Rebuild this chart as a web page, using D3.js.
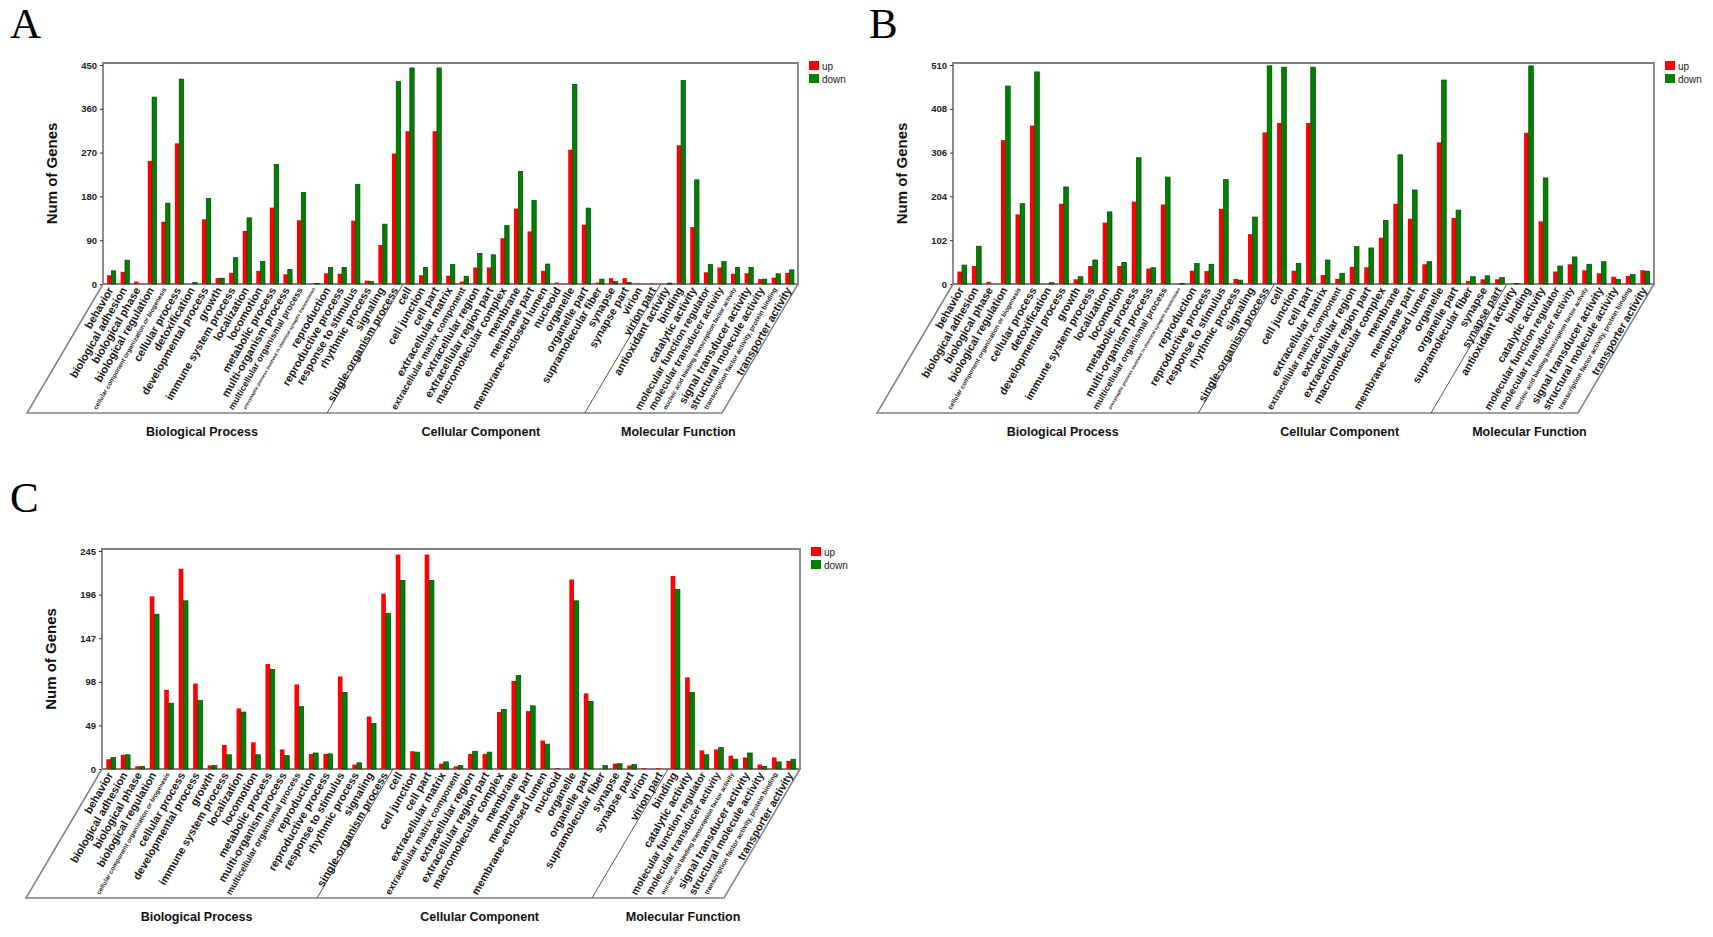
<!DOCTYPE html>
<html>
<head>
<meta charset="utf-8">
<script src="https://cdn.jsdelivr.net/npm/d3@7"></script>
<style>
  body { margin: 0; background: #fff; }
  svg text { font-family: "Liberation Sans", Arial, sans-serif; }
</style>
</head>
<body>
<svg id="fig" width="1713" height="937"></svg>
<script>
// GO level-2 terms
const bpTerms = ['behavior', 'biological adhesion', 'biological phase', 'biological regulation',
  'cellular component organization or biogenesis', 'cellular process', 'detoxification',
  'developmental process', 'growth', 'immune system process', 'localization', 'locomotion',
  'metabolic process', 'multi-organism process', 'multicellular organismal process',
  'presynaptic process involved in chemical synaptic transmission', 'reproduction',
  'reproductive process', 'response to stimulus', 'rhythmic process', 'signaling',
  'single-organism process'];
const ccTerms = ['cell', 'cell junction', 'cell part', 'extracellular matrix',
  'extracellular matrix component', 'extracellular region', 'extracellular region part',
  'macromolecular complex', 'membrane', 'membrane part', 'membrane-enclosed lumen', 'nucleoid',
  'organelle', 'organelle part', 'supramolecular fiber', 'synapse', 'synapse part', 'virion',
  'virion part'];
const mfTerms = ['antioxidant activity', 'binding', 'catalytic activity',
  'molecular function regulator', 'molecular transducer activity',
  'nucleic acid binding transcription factor activity', 'signal transducer activity',
  'structural molecule activity', 'transcription factor activity, protein binding',
  'transporter activity'];
const groupNames = ['Biological Process', 'Cellular Component', 'Molecular Function'];

// terms missing from a panel
const omitA = [];
const omitB = ['nucleoid', 'virion', 'virion part'];
const omitC = ['detoxification', 'presynaptic process involved in chemical synaptic transmission',
  'antioxidant activity'];

const seriesNames = ['up', 'down'];
const seriesColors = ['#ff0000', '#008000'];

// panel A
const upA = [18, 25, 5, 253, 128, 289, 0, 133, 12, 23, 109, 27, 157, 20, 131, 0, 22, 21, 130, 7, 80, 268,
  314, 18, 314, 17, 5, 34, 34, 94, 155, 108, 27, 3, 276, 122, 3, 12, 12, 1, 1,
  0, 285, 117, 24, 34, 21, 22, 10, 13, 23];
const downA = [27, 49, 0, 384, 166, 421, 3, 176, 12, 54, 136, 46, 246, 30, 188, 1, 34, 34, 205, 5, 123, 416,
  444, 34, 444, 40, 16, 63, 60, 120, 231, 172, 41, 0, 410, 156, 10, 5, 3, 0, 0,
  2, 418, 214, 40, 46, 34, 34, 10, 21, 29];
const ticksA = [0, 90, 180, 270, 360, 450];

// panel B
const upB = [29, 42, 5, 335, 162, 369, 0, 187, 11, 42, 143, 42, 192, 36, 185, 0, 31, 30, 175, 12, 116, 353,
  375, 31, 375, 21, 12, 40, 39, 108, 187, 152, 46, 330, 154, 7, 11, 11,
  0, 352, 146, 29, 46, 32, 25, 17, 19, 32];
const downB = [44, 88, 0, 461, 187, 494, 3, 226, 17, 56, 168, 50, 294, 38, 249, 1, 48, 46, 243, 9, 156, 508,
  505, 48, 505, 56, 25, 87, 84, 148, 301, 219, 52, 475, 172, 17, 19, 15,
  1, 508, 247, 42, 63, 46, 52, 11, 22, 30];
const ticksB = [0, 102, 204, 306, 408, 510];

// panel C
const upC = [11, 16, 3, 194, 89, 225, 96, 4, 27, 68, 30, 118, 22, 95, 17, 17, 104, 5, 59, 197,
  241, 20, 241, 6, 3, 17, 17, 64, 99, 65, 32, 1, 213, 85, 0, 6, 4, 1, 1,
  217, 103, 21, 22, 15, 13, 5, 13, 9];
const downC = [13, 16, 3, 174, 74, 189, 77, 4, 16, 64, 16, 112, 15, 70, 18, 17, 86, 7, 51, 175,
  212, 19, 212, 8, 4, 20, 19, 67, 105, 71, 28, 0, 189, 76, 4, 6, 5, 0, 0,
  202, 86, 16, 24, 11, 18, 3, 8, 11];
const ticksC = [0, 49, 98, 147, 196, 245];

const panels = [
  { letter: 'A', lx: 10, ly: 38, left: 103, right: 798, top: 63, base: 284, omit: omitA, up: upA, down: downA, ticks: ticksA },
  { letter: 'B', lx: 869, ly: 38, left: 953, right: 1654, top: 63, base: 284, omit: omitB, up: upB, down: downB, ticks: ticksB },
  { letter: 'C', lx: 10, ly: 512, left: 102, right: 800, top: 549, base: 769, omit: omitC, up: upC, down: downC, ticks: ticksC }
];

const svg = d3.select('#fig');
const slantX = 76, slantY = 129; // label box skew
const frameColor = '#808080';

function drawPanel(p) {
  const g = svg.append('g');
  const groups = [bpTerms, ccTerms, mfTerms].map(t => t.filter(d => !p.omit.includes(d)));
  const terms = groups.flat();

  // x scale for categories, inner scale for up/down
  const x = d3.scaleBand().domain(terms).range([p.left, p.right]).paddingInner(0.36).paddingOuter(0.3);
  const xs = d3.scaleBand().domain(seriesNames).range([0, x.bandwidth()]);
  const y = d3.scaleLinear().domain([0, d3.max(p.ticks)]).range([p.base, p.top + 2]);

  // panel letter
  g.append('text')
    .attr('x', p.lx).attr('y', p.ly)
    .style('font-family', '"Liberation Serif", "Times New Roman", serif')
    .style('font-size', '43px')
    .text(p.letter);

  // frame
  g.append('path')
    .attr('d', `M${p.left},${p.base}V${p.top}H${p.right}V${p.base}Z`)
    .attr('fill', 'none').attr('stroke', frameColor).attr('stroke-width', 1.8);

  // y axis
  const yAxis = d3.axisLeft(y).tickValues(p.ticks).tickSize(3).tickPadding(3);
  const ax = g.append('g').attr('transform', `translate(${p.left},0)`).call(yAxis);
  ax.select('.domain').remove();
  ax.selectAll('.tick line').attr('stroke', '#333');
  ax.selectAll('.tick text')
    .style('font-size', '9.5px').style('font-weight', 'bold').attr('fill', '#222');

  g.append('text')
    .attr('transform', `translate(${p.left - 46},${(p.top + p.base) / 2}) rotate(-90)`)
    .attr('text-anchor', 'middle')
    .style('font-size', '15px').style('font-weight', 'bold').attr('fill', '#111')
    .text('Num of Genes');

  // bars
  const rows = terms.map((t, i) => ({ term: t, vals: [p.up[i], p.down[i]] }));
  const cat = g.append('g').selectAll('g').data(rows).enter().append('g')
    .attr('transform', d => `translate(${x(d.term)},0)`);
  cat.selectAll('rect')
    .data(d => d.vals.map((v, k) => ({ key: seriesNames[k], v, k })))
    .enter().append('rect')
    .attr('x', d => xs(d.key))
    .attr('width', xs.bandwidth())
    .attr('y', d => y(d.v))
    .attr('height', d => p.base - y(d.v))
    .attr('fill', d => seriesColors[d.k])
    .attr('stroke', d => d.k === 1 ? '#004400' : 'none')
    .attr('stroke-width', 0.7);

  // slanted label box
  const bottom = p.base + slantY;
  g.append('path')
    .attr('d', `M${p.left},${p.base}L${p.left - slantX},${bottom}H${p.right - slantX}L${p.right},${p.base}`)
    .attr('fill', 'none').attr('stroke', frameColor).attr('stroke-width', 1.5);

  // group dividers and group titles
  let edges = [p.left];
  let idx = 0;
  groups.forEach((grp, gi) => {
    idx += grp.length;
    if (gi < groups.length - 1) {
      const a = terms[idx - 1], b = terms[idx];
      edges.push((x(a) + x.bandwidth() + x(b)) / 2);
    }
  });
  edges.push(p.right);
  edges.slice(1, -1).forEach(e => {
    g.append('line')
      .attr('x1', e).attr('y1', p.base).attr('x2', e - slantX).attr('y2', bottom)
      .attr('stroke', '#555').attr('stroke-width', 1);
  });
  groupNames.forEach((name, gi) => {
    const cx = (edges[gi] + edges[gi + 1]) / 2 - slantX + 25;
    g.append('text')
      .attr('x', cx).attr('y', bottom + 23)
      .attr('text-anchor', 'middle')
      .style('font-size', '12.5px').style('font-weight', 'bold').attr('fill', '#111')
      .text(name);
  });

  // category labels, shrunk to fit the box
  const maxLen = (slantY - 8) / Math.sin(Math.PI / 3);
  g.append('g').selectAll('text').data(terms).enter().append('text')
    .attr('transform', d => `translate(${x(d) + x.bandwidth() / 2 - 1},${p.base + 4}) rotate(-60)`)
    .attr('text-anchor', 'end')
    .attr('dy', '0.35em')
    .style('font-size', '11px').style('font-weight', 'bold').attr('fill', '#1a1a1a')
    .text(d => d)
    .each(function () {
      const len = this.getComputedTextLength();
      if (len > maxLen) d3.select(this).style('font-size', (11 * maxLen / len) + 'px');
    });

  // legend
  const leg = g.append('g').attr('transform', `translate(${p.right + 11},${p.top - 2})`);
  seriesNames.forEach((s, k) => {
    leg.append('rect').attr('x', 0).attr('y', k * 13).attr('width', 10).attr('height', 9)
      .attr('fill', seriesColors[k]);
    leg.append('text').attr('x', 13).attr('y', k * 13 + 8.5)
      .style('font-size', '10px').attr('fill', '#222').text(s);
  });
}

panels.forEach(drawPanel);
</script>
</body>
</html>
